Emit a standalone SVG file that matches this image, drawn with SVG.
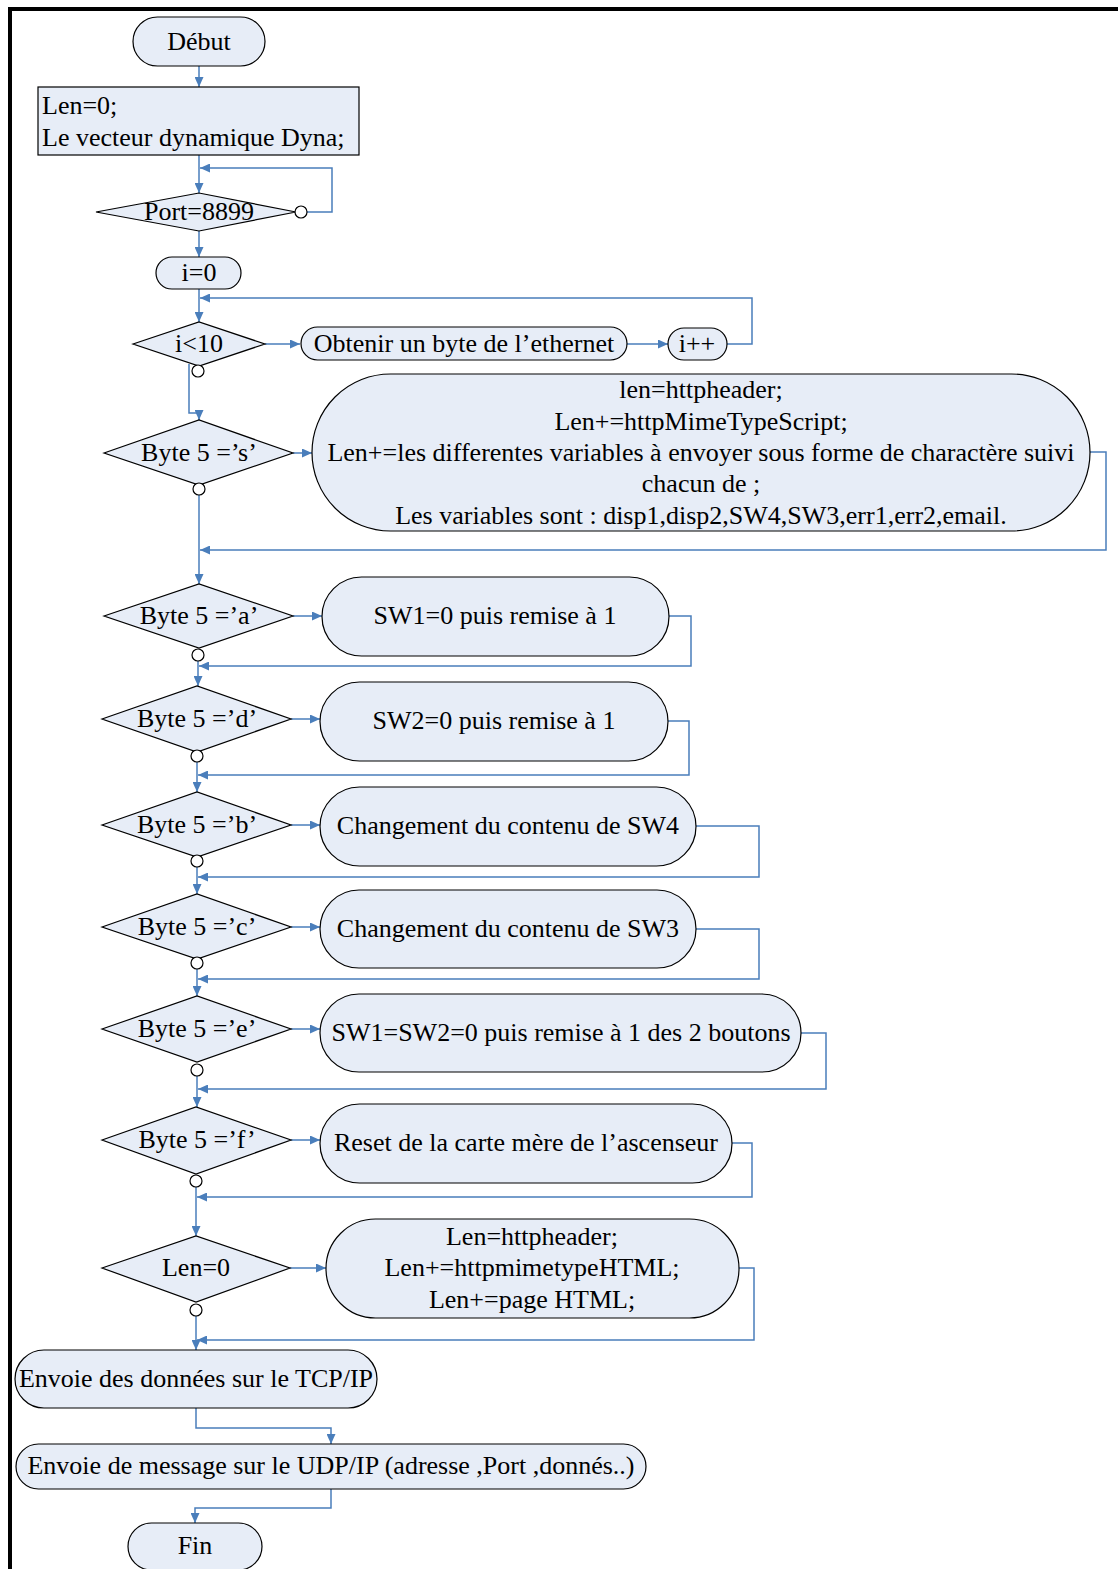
<svg xmlns="http://www.w3.org/2000/svg" width="1118" height="1569" viewBox="0 0 1118 1569">
<style>
.n{fill:#e7edf7;stroke:#000;stroke-width:1.2}
.t{font-family:"Liberation Serif","Times New Roman",serif;font-size:26px;fill:#000;text-anchor:middle}
.l{text-anchor:start}
.c{fill:none;stroke:#4a7ebb;stroke-width:1.5}
.o{fill:#fff;stroke:#000;stroke-width:1.2}
</style>
<defs>
<marker id="ah" markerUnits="userSpaceOnUse" markerWidth="11" markerHeight="9" refX="10" refY="4.5" orient="auto"><path d="M0,0 L10,4.5 L0,9 z" fill="#4a7ebb"/></marker>
</defs>
<rect x="0" y="0" width="1118" height="1569" fill="#fff"/>
<rect x="8" y="7" width="1110" height="4" fill="#000"/>
<rect x="8" y="7" width="4" height="1562" fill="#000"/>

<g id="connectors">
<path class="c" d="M199,66 V87" marker-end="url(#ah)"/>
<path class="c" d="M199,155 V193" marker-end="url(#ah)"/>
<path class="c" d="M307,212 H332 V168 H200" marker-end="url(#ah)"/>
<path class="c" d="M199,231 V257" marker-end="url(#ah)"/>
<path class="c" d="M199,289 V322" marker-end="url(#ah)"/>
<path class="c" d="M265,344 H300" marker-end="url(#ah)"/>
<path class="c" d="M627,344 H668" marker-end="url(#ah)"/>
<path class="c" d="M727,344 H752 V298 H200" marker-end="url(#ah)"/>
<path class="c" d="M189,364 V413 H199 V420" marker-end="url(#ah)"/>
<path class="c" d="M293,453 H312" marker-end="url(#ah)"/>
<path class="c" d="M1090,452 H1106 V550 H200" marker-end="url(#ah)"/>
<path class="c" d="M199,495 V584" marker-end="url(#ah)"/>
<path class="c" d="M293,616 H322" marker-end="url(#ah)"/>
<path class="c" d="M669,616 H691 V666 H199" marker-end="url(#ah)"/>
<path class="c" d="M198,661 V686" marker-end="url(#ah)"/>
<path class="c" d="M291,719 H320" marker-end="url(#ah)"/>
<path class="c" d="M668,721 H689 V775 H198" marker-end="url(#ah)"/>
<path class="c" d="M197,762 V792" marker-end="url(#ah)"/>
<path class="c" d="M291,825 H320" marker-end="url(#ah)"/>
<path class="c" d="M696,826 H759 V877 H198" marker-end="url(#ah)"/>
<path class="c" d="M197,867 V894" marker-end="url(#ah)"/>
<path class="c" d="M291,927 H320" marker-end="url(#ah)"/>
<path class="c" d="M696,929 H759 V979 H198" marker-end="url(#ah)"/>
<path class="c" d="M197,969 V996" marker-end="url(#ah)"/>
<path class="c" d="M291,1029 H320" marker-end="url(#ah)"/>
<path class="c" d="M801,1033 H826 V1089 H198" marker-end="url(#ah)"/>
<path class="c" d="M197,1076 V1107" marker-end="url(#ah)"/>
<path class="c" d="M291,1140 H320" marker-end="url(#ah)"/>
<path class="c" d="M732,1143 H752 V1197 H197" marker-end="url(#ah)"/>
<path class="c" d="M196,1187 V1236" marker-end="url(#ah)"/>
<path class="c" d="M290,1268 H326" marker-end="url(#ah)"/>
<path class="c" d="M739,1268 H754 V1340 H197" marker-end="url(#ah)"/>
<path class="c" d="M196,1316 V1350" marker-end="url(#ah)"/>
<path class="c" d="M196,1408 V1428 H331 V1444" marker-end="url(#ah)"/>
<path class="c" d="M331,1489 V1508 H195 V1523" marker-end="url(#ah)"/>
</g>

<g id="debut"><rect class="n" x="133" y="17" width="132" height="49" rx="24.5"/><text class="t" x="199" y="50">Début</text></g>
<g id="init"><rect class="n" x="38" y="87" width="321" height="68"/><text class="t l" x="42" y="114">Len=0;</text><text class="t l" x="42" y="146">Le vecteur dynamique Dyna;</text></g>
<g id="port"><polygon class="n" points="96,212 199,193 296,212 199,231"/><circle class="o" cx="301" cy="212" r="6"/><text class="t" x="199" y="220">Port=8899</text></g>
<g id="i0"><rect class="n" x="156" y="257" width="85" height="32" rx="16"/><text class="t" x="199" y="281">i=0</text></g>
<g id="ilt10"><polygon class="n" points="133,344 199,322 265,344 199,366"/><circle class="o" cx="198" cy="371" r="6"/><text class="t" x="199" y="352">i&lt;10</text></g>
<g id="obtenir"><rect class="n" x="301" y="327" width="326" height="33" rx="16.5"/><text class="t" x="464" y="352">Obtenir un byte de l’ethernet</text></g>
<g id="iinc"><rect class="n" x="668" y="328" width="59" height="32" rx="16"/><text class="t" x="697" y="352">i++</text></g>
<g id="bs"><polygon class="n" points="104,453 199,420 293,453 199,485"/><circle class="o" cx="199" cy="489" r="6"/><text class="t" x="199" y="461">Byte 5 =’s’</text></g>
<g id="script"><rect class="n" x="312" y="374" width="778" height="157" rx="78.5"/>
<text class="t" x="701" y="398">len=httpheader;</text>
<text class="t" x="701" y="429.5">Len+=httpMimeTypeScript;</text>
<text class="t" x="701" y="461">Len+=les differentes variables à envoyer sous forme de charactère suivi</text>
<text class="t" x="701" y="492">chacun de ;</text>
<text class="t" x="701" y="523.5">Les variables sont : disp1,disp2,SW4,SW3,err1,err2,email.</text></g>
<g id="ba"><polygon class="n" points="104,616 199,584 293,616 199,648"/><circle class="o" cx="198" cy="655" r="6"/><text class="t" x="199" y="624">Byte 5 =’a’</text></g>
<g id="sw1"><rect class="n" x="322" y="577" width="347" height="79" rx="39.5"/><text class="t" x="495" y="624">SW1=0 puis remise à 1</text></g>
<g id="bd"><polygon class="n" points="102,719 197,686 291,719 197,752"/><circle class="o" cx="197" cy="756" r="6"/><text class="t" x="197" y="727">Byte 5 =’d’</text></g>
<g id="sw2"><rect class="n" x="320" y="682" width="348" height="79" rx="39.5"/><text class="t" x="494" y="729">SW2=0 puis remise à 1</text></g>
<g id="bb"><polygon class="n" points="102,825 197,792 291,825 197,857"/><circle class="o" cx="197" cy="861" r="6"/><text class="t" x="197" y="833">Byte 5 =’b’</text></g>
<g id="sw4"><rect class="n" x="320" y="787" width="376" height="79" rx="39.5"/><text class="t" x="508" y="834">Changement du contenu de SW4</text></g>
<g id="bc"><polygon class="n" points="102,927 197,894 291,927 197,959"/><circle class="o" cx="197" cy="963" r="6"/><text class="t" x="197" y="935">Byte 5 =’c’</text></g>
<g id="sw3"><rect class="n" x="320" y="890" width="376" height="78" rx="39"/><text class="t" x="508" y="937">Changement du contenu de SW3</text></g>
<g id="be"><polygon class="n" points="102,1029 197,996 291,1029 197,1062"/><circle class="o" cx="197" cy="1070" r="6"/><text class="t" x="197" y="1037">Byte 5 =’e’</text></g>
<g id="sw12"><rect class="n" x="320" y="994" width="481" height="78" rx="39"/><text class="t" x="561" y="1041">SW1=SW2=0 puis remise à 1 des 2 boutons</text></g>
<g id="bf"><polygon class="n" points="102,1140 196,1107 291,1140 196,1174"/><circle class="o" cx="196" cy="1181" r="6"/><text class="t" x="197" y="1148">Byte 5 =’f’</text></g>
<g id="reset"><rect class="n" x="320" y="1104" width="412" height="79" rx="39.5"/><text class="t" x="526" y="1151">Reset de la carte mère de l’ascenseur</text></g>
<g id="len0"><polygon class="n" points="102,1268 196,1236 290,1268 196,1302"/><circle class="o" cx="196" cy="1310" r="6"/><text class="t" x="196" y="1276">Len=0</text></g>
<g id="html"><rect class="n" x="326" y="1219" width="413" height="99" rx="49.5"/>
<text class="t" x="532" y="1245">Len=httpheader;</text>
<text class="t" x="532" y="1276">Len+=httpmimetypeHTML;</text>
<text class="t" x="532" y="1308">Len+=page HTML;</text></g>
<g id="tcp"><rect class="n" x="15" y="1350" width="362" height="58" rx="29"/><text class="t" x="196" y="1387">Envoie des données sur le TCP/IP</text></g>
<g id="udp"><rect class="n" x="16" y="1444" width="630" height="45" rx="22.5"/><text class="t" x="331" y="1474">Envoie de message sur le UDP/IP (adresse ,Port ,donnés..)</text></g>
<g id="fin"><rect class="n" x="128" y="1523" width="134" height="47" rx="23.5"/><text class="t" x="195" y="1554">Fin</text></g>
</svg>
